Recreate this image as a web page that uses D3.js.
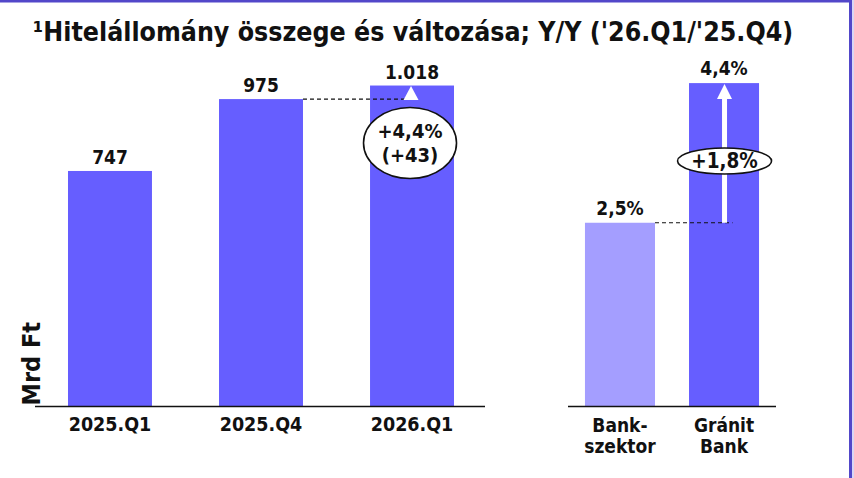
<!DOCTYPE html>
<html>
<head>
<meta charset="utf-8">
<script src="https://cdn.jsdelivr.net/npm/d3@7"></script>
<style>
html,body{margin:0;padding:0;background:#fff;}
svg{display:block;}
text{font-family:"DejaVu Sans Condensed","DejaVu Sans",sans-serif;font-weight:bold;fill:#111;}
</style>
</head>
<body>
<svg id="chart" width="854" height="478"></svg>
<script>
const titleText = "\u00B9Hitelállomány összege és változása; Y/Y ('26.Q1/'25.Q4)";
const categories = ["2025.Q1", "2025.Q4", "2026.Q1"];
const values = [747, 975, 1018];
const valueLabels = ["747", "975", "1.018"];
const growthCategories = [["Bank-", "szektor"], ["Gránit", "Bank"]];
const growthKeys = ["Bankszektor", "Granit"];
const growthValues = [2.5, 4.4];
const growthLabels = ["2,5%", "4,4%"];
const changeLabels = ["+4,4%", "(+43)"];
const diffLabel = "+1,8%";
const yTitle = "Mrd Ft";

const barColor = "#665eff";
const lightColor = "#a49eff";
const borderColor = "#5247c9";

const svg = d3.select("#chart");
const base = 406.5;

// frame
svg.append("rect").attr("x", 0).attr("y", 0).attr("width", 854).attr("height", 2.5).attr("fill", borderColor);
svg.append("rect").attr("x", 849).attr("y", 0).attr("width", 3).attr("height", 478).attr("fill", borderColor);
svg.append("rect").attr("x", 852).attr("y", 0).attr("width", 2).attr("height", 478).attr("fill", "#d9d6f5");

// title
svg.append("text").attr("x", 413).attr("y", 41).attr("text-anchor", "middle")
  .style("font-size", "26.5px").text(titleText);

// left chart
const x = d3.scaleBand().domain(categories).range([35, 487]).paddingInner(0.444).paddingOuter(0.2185);
const y = d3.scaleLinear().domain([0, 1000]).range([base, base - 315.3]);

svg.selectAll("rect.bar").data(values).enter().append("rect").attr("class", "bar")
  .attr("x", (d, i) => x(categories[i])).attr("width", x.bandwidth())
  .attr("y", d => y(d)).attr("height", d => base - y(d)).attr("fill", barColor);

svg.selectAll("text.vl").data(values).enter().append("text").attr("class", "vl")
  .attr("x", (d, i) => x(categories[i]) + x.bandwidth() / 2).attr("y", d => y(d) - 7)
  .attr("text-anchor", "middle").style("font-size", "19px").text((d, i) => valueLabels[i]);

const xAxis = svg.append("g").attr("transform", `translate(0,${base})`)
  .call(d3.axisBottom(x).tickSize(0).tickPadding(11));
xAxis.select(".domain").attr("stroke", "#111").attr("stroke-width", 1.5).attr("d", `M35,0H485`);
xAxis.selectAll("text").style("font-size", "19.5px").style("font-family", "'DejaVu Sans Condensed','DejaVu Sans',sans-serif").style("font-weight", "bold").attr("fill", "#111");

// change annotation (left)
const c2 = x(categories[2]) + x.bandwidth() / 2;
svg.append("line").attr("x1", x(categories[1]) + x.bandwidth()).attr("x2", c2 - 7)
  .attr("y1", y(values[1])).attr("y2", y(values[1]))
  .attr("stroke", "#111").attr("stroke-width", 1.2).attr("stroke-dasharray", "4,3");
svg.append("path").attr("d", `M${c2 - 1},${y(values[2]) + 0.5}L${c2 - 8.5},${y(values[1]) + 1}L${c2 + 6.5},${y(values[1]) + 1}Z`).attr("fill", "#fff");
svg.append("ellipse").attr("cx", c2 - 2).attr("cy", 143).attr("rx", 46.5).attr("ry", 35.5)
  .attr("fill", "#fff").attr("stroke", "#111").attr("stroke-width", 1.6);
svg.append("text").attr("x", c2 - 2).attr("y", 138).attr("text-anchor", "middle").style("font-size", "20px").text(changeLabels[0]);
svg.append("text").attr("x", c2 - 2).attr("y", 162).attr("text-anchor", "middle").style("font-size", "20px").text(changeLabels[1]);

// right chart
const x2 = d3.scaleBand().domain(growthKeys).range([568, 776]).paddingInner(0.327).paddingOuter(0.163);
const y2 = d3.scaleLinear().domain([0, 1]).range([base, base - 73.5]);

svg.selectAll("rect.gbar").data(growthValues).enter().append("rect").attr("class", "gbar")
  .attr("x", (d, i) => x2(growthKeys[i])).attr("width", x2.bandwidth())
  .attr("y", d => y2(d)).attr("height", d => base - y2(d)).attr("fill", (d, i) => i === 0 ? lightColor : barColor);

svg.selectAll("text.gl").data(growthValues).enter().append("text").attr("class", "gl")
  .attr("x", (d, i) => x2(growthKeys[i]) + x2.bandwidth() / 2).attr("y", d => y2(d) - 8)
  .attr("text-anchor", "middle").style("font-size", "19px").text((d, i) => growthLabels[i]);

const xAxis2 = svg.append("g").attr("transform", `translate(0,${base})`)
  .call(d3.axisBottom(x2).tickSize(0).tickPadding(0).tickFormat(() => ""));
xAxis2.select(".domain").attr("stroke", "#111").attr("stroke-width", 1.5).attr("d", `M568,0H776`);
growthKeys.forEach((k, i) => {
  const t = svg.append("text").attr("x", x2(k) + x2.bandwidth() / 2).attr("y", base + 25)
    .attr("text-anchor", "middle").style("font-size", "19px");
  growthCategories[i].forEach((line, j) => {
    t.append("tspan").attr("x", x2(k) + x2.bandwidth() / 2).attr("dy", j === 0 ? 0 : 21).text(line);
  });
});

// arrow right
const gc = x2(growthKeys[1]) + x2.bandwidth() / 2 + 0.5;
svg.append("line").attr("x1", x2(growthKeys[0]) + x2.bandwidth()).attr("x2", gc + 8)
  .attr("y1", y2(growthValues[0])).attr("y2", y2(growthValues[0]))
  .attr("stroke", "#111").attr("stroke-width", 1.2).attr("stroke-dasharray", "4,3");
svg.append("rect").attr("x", gc - 2.5).attr("y", y2(growthValues[1]) + 14).attr("width", 5)
  .attr("height", y2(growthValues[0]) - y2(growthValues[1]) - 14).attr("fill", "#fff");
svg.append("path").attr("d", `M${gc},${y2(growthValues[1]) + 1}L${gc - 7.5},${y2(growthValues[1]) + 16}L${gc + 7.5},${y2(growthValues[1]) + 16}Z`).attr("fill", "#fff");
svg.append("ellipse").attr("cx", gc).attr("cy", 161).attr("rx", 47).attr("ry", 13)
  .attr("fill", "#fff").attr("stroke", "#111").attr("stroke-width", 1.6);
svg.append("text").attr("x", gc).attr("y", 168).attr("text-anchor", "middle").style("font-size", "20.5px").text(diffLabel);

// y title
svg.append("text").attr("transform", `translate(40,${base - 1}) rotate(-90)`)
  .attr("text-anchor", "start").style("font-size", "25px").text(yTitle);
</script>
</body>
</html>
